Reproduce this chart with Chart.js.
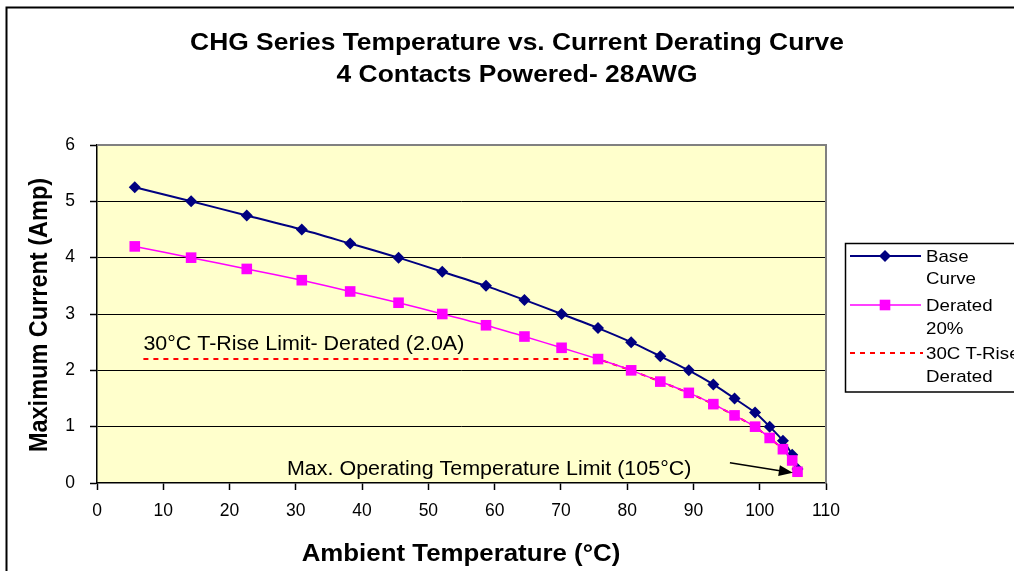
<!DOCTYPE html>
<html>
<head>
<meta charset="utf-8">
<script src="https://cdn.jsdelivr.net/npm/chart.js@4.4.1/dist/chart.umd.min.js"></script>
<style>
  html, body { margin: 0; padding: 0; background: #ffffff; }
  canvas { display: block; }
</style>
</head>
<body>
<canvas id="c" width="1014" height="571"></canvas>
<script>
// ---- Data ----
const tempC = [5.7, 14.2, 22.6, 30.9, 38.2, 45.5, 52.1, 58.7, 64.5, 70.1, 75.6, 80.6, 85.0, 89.3, 93.0, 96.2, 99.3, 101.5, 103.5, 104.9, 105.7];
const baseAmp = [5.25, 5.0, 4.75, 4.5, 4.25, 4.0, 3.75, 3.5, 3.25, 3.0, 2.75, 2.5, 2.25, 2.0, 1.75, 1.5, 1.25, 1.0, 0.75, 0.5, 0.25];
const deratedAmp = [4.2, 4.0, 3.8, 3.6, 3.4, 3.2, 3.0, 2.8, 2.6, 2.4, 2.2, 2.0, 1.8, 1.6, 1.4, 1.2, 1.0, 0.8, 0.6, 0.4, 0.2];
const riseTemp = [7.0, 75.6, 80.6, 85.0, 89.3, 93.0, 96.2, 99.3, 101.5, 103.5, 104.9, 105.7];
const riseAmp = [2.2, 2.2, 2.0, 1.8, 1.6, 1.4, 1.2, 1.0, 0.8, 0.6, 0.4, 0.2];
const xTicks = [0, 10, 20, 30, 40, 50, 60, 70, 80, 90, 100, 110];
const yTicks = [0, 1, 2, 3, 4, 5, 6];
const seriesNames = ['Base Curve', 'Derated 20%', '30C T-Rise Derated'];
const legendLines = [['Base', 'Curve'], ['Derated', '20%'], ['30C T-Rise', 'Derated']];
const titleLines = ['CHG Series Temperature vs. Current Derating Curve', '4 Contacts Powered- 28AWG'];
const xTitle = 'Ambient Temperature (°C)';
const yTitle = 'Maximum Current (Amp)';
const noteRise = '30°C T-Rise Limit- Derated (2.0A)';
const noteMax = 'Max. Operating Temperature Limit (105°C)';
const noteRiseAt = [7.0, 2.2];
const arrowFrom = [95.5, 0.36];
const arrowTo = [105.0, 0.18];

const FAM = "'Liberation Sans', Arial, sans-serif";
const SX = 1.1; // horizontal stretch seen in the reference text

function pts(xs, ys) { return xs.map((x, i) => ({ x: x, y: ys[i] })); }

function txt(ctx, s, x, y, font, align, sx) {
  ctx.save();
  ctx.font = font;
  ctx.fillStyle = '#000';
  ctx.textAlign = align;
  ctx.textBaseline = 'alphabetic';
  ctx.translate(x, y);
  ctx.scale(sx, 1);
  ctx.fillText(s, 0, 0);
  ctx.restore();
}

const decor = {
  id: 'decor',
  beforeDraw(chart) {
    const ctx = chart.ctx, a = chart.chartArea;
    ctx.save();
    ctx.fillStyle = '#ffffff';
    ctx.fillRect(0, 0, chart.width, chart.height);
    ctx.fillStyle = '#FFFFCC';
    ctx.fillRect(a.left, a.top, a.right - a.left, a.bottom - a.top);
    ctx.restore();
  },
  beforeDatasetsDraw(chart) {
    const ctx = chart.ctx, a = chart.chartArea;
    ctx.save();
    ctx.strokeStyle = '#808080';
    ctx.lineWidth = 2;
    ctx.beginPath();
    ctx.moveTo(a.left, a.top);
    ctx.lineTo(a.right, a.top);
    ctx.lineTo(a.right, a.bottom);
    ctx.stroke();
    ctx.restore();
  },
  afterDraw(chart) {
    const ctx = chart.ctx, a = chart.chartArea;
    const xs = chart.scales.x, ys = chart.scales.y;
    // outer frame
    ctx.save();
    ctx.strokeStyle = '#000';
    ctx.lineWidth = 2;
    ctx.strokeRect(6.5, 7.5, 1200, 800);
    ctx.restore();

    // titles
    txt(ctx, titleLines[0], 517, 50, 'bold 24px ' + FAM, 'center', SX);
    txt(ctx, titleLines[1], 517, 81.5, 'bold 24px ' + FAM, 'center', SX);

    // axis titles
    txt(ctx, xTitle, 461, 561, 'bold 23.5px ' + FAM, 'center', SX);
    ctx.save();
    ctx.font = 'bold 23.5px ' + FAM;
    ctx.fillStyle = '#000';
    ctx.textAlign = 'center';
    ctx.textBaseline = 'alphabetic';
    ctx.translate(47, 315);
    ctx.scale(SX, 1);
    ctx.rotate(-Math.PI / 2);
    ctx.fillText(yTitle, 0, 0);
    ctx.restore();

    // annotations
    txt(ctx, noteRise, xs.getPixelForValue(noteRiseAt[0]), ys.getPixelForValue(noteRiseAt[1]) - 9, '19.5px ' + FAM, 'left', SX);
    txt(ctx, noteMax, 287, 475, '19.5px ' + FAM, 'left', SX);

    // arrow
    const x1 = xs.getPixelForValue(arrowFrom[0]), y1 = ys.getPixelForValue(arrowFrom[1]);
    const x2 = xs.getPixelForValue(arrowTo[0]), y2 = ys.getPixelForValue(arrowTo[1]);
    const ang = Math.atan2(y2 - y1, x2 - x1);
    ctx.save();
    ctx.strokeStyle = '#000';
    ctx.fillStyle = '#000';
    ctx.lineWidth = 1.5;
    ctx.beginPath();
    ctx.moveTo(x1, y1);
    ctx.lineTo(x2 - 10 * Math.cos(ang), y2 - 10 * Math.sin(ang));
    ctx.stroke();
    ctx.translate(x2, y2);
    ctx.rotate(ang);
    ctx.beginPath();
    ctx.moveTo(0, 0);
    ctx.lineTo(-14, -5.5);
    ctx.lineTo(-14, 5.5);
    ctx.closePath();
    ctx.fill();
    ctx.restore();

    // legend
    ctx.save();
    ctx.strokeStyle = '#000';
    ctx.lineWidth = 1.5;
    ctx.strokeRect(845.5, 243.5, 220, 148.5);
    const lx0 = 850, lx1 = 921, mx = 885;
    // base
    ctx.strokeStyle = '#000080'; ctx.lineWidth = 2;
    ctx.beginPath(); ctx.moveTo(lx0, 256); ctx.lineTo(lx1, 256); ctx.stroke();
    ctx.fillStyle = '#000080';
    ctx.beginPath(); ctx.moveTo(mx, 250); ctx.lineTo(mx + 6, 256); ctx.lineTo(mx, 262); ctx.lineTo(mx - 6, 256); ctx.closePath(); ctx.fill();
    // derated
    ctx.strokeStyle = '#FF00FF'; ctx.lineWidth = 1.5;
    ctx.beginPath(); ctx.moveTo(lx0, 305); ctx.lineTo(lx1, 305); ctx.stroke();
    ctx.fillStyle = '#FF00FF';
    ctx.fillRect(mx - 5.3, 305 - 5.3, 10.6, 10.6);
    // rise
    ctx.strokeStyle = '#FF0000'; ctx.lineWidth = 2; ctx.setLineDash([5, 5]);
    ctx.beginPath(); ctx.moveTo(lx0, 353); ctx.lineTo(lx1 + 2, 353); ctx.stroke();
    ctx.setLineDash([]);
    ctx.restore();
    const lf = '17px ' + FAM;
    const base = [[261.5, 284], [311, 333.5], [359, 381.5]];
    legendLines.forEach((ls, i) => {
      txt(ctx, ls[0], 926, base[i][0], lf, 'left', SX);
      txt(ctx, ls[1], 926, base[i][1], lf, 'left', SX);
    });
  }
};

new Chart(document.getElementById('c'), {
  type: 'scatter',
  data: {
    datasets: [
      {
        label: seriesNames[0],
        data: pts(tempC, baseAmp),
        showLine: true,
        borderColor: '#000080',
        backgroundColor: '#000080',
        borderWidth: 2,
        tension: 0.2,
        pointStyle: 'rectRot',
        pointRadius: 6,
        pointBorderWidth: 0,
        pointBackgroundColor: '#000080',
        order: 1
      },
      {
        label: seriesNames[1],
        data: pts(tempC, deratedAmp),
        showLine: true,
        borderColor: '#FF00FF',
        backgroundColor: '#FF00FF',
        borderWidth: 1.5,
        tension: 0.2,
        pointStyle: 'rect',
        pointRadius: 7.5,
        pointBorderWidth: 0,
        pointBackgroundColor: '#FF00FF',
        order: 0
      },
      {
        label: seriesNames[2],
        data: pts(riseTemp, riseAmp),
        showLine: true,
        borderColor: '#FF0000',
        borderWidth: 2,
        borderDash: [5, 5],
        tension: 0,
        pointRadius: 0,
        order: 2
      }
    ]
  },
  options: {
    responsive: false,
    animation: false,
    devicePixelRatio: 1,
    layout: { padding: { left: 0, right: 188, top: 145, bottom: 0 } },
    plugins: {
      legend: { display: false },
      title: { display: false },
      tooltip: { enabled: false }
    },
    scales: {
      x: {
        type: 'linear',
        min: xTicks[0],
        max: xTicks[xTicks.length - 1],
        afterFit: s => { s.height = 88; },
        afterBuildTicks: s => { s.ticks = xTicks.map(v => ({ value: v })); },
        ticks: { color: '#000', font: { family: FAM, size: 17.5 }, padding: 11, maxRotation: 0, autoSkip: false },
        grid: { drawOnChartArea: false, drawTicks: true, tickLength: 7, tickColor: '#000', tickWidth: 1.5 },
        border: { display: true, color: '#000', width: 1.5 },
        title: { display: false }
      },
      y: {
        type: 'linear',
        min: yTicks[0],
        max: yTicks[yTicks.length - 1],
        afterFit: s => { s.width = 97; },
        afterBuildTicks: s => { s.ticks = yTicks.map(v => ({ value: v })); },
        ticks: { color: '#000', font: { family: FAM, size: 17.5 }, padding: 15 },
        grid: {
          color: c => (c.tick && c.tick.value === 6) || (c.tick && c.tick.value === 0) ? 'rgba(0,0,0,0)' : '#000',
          lineWidth: 1,
          drawTicks: true,
          tickLength: 7,
          tickColor: '#000',
          tickWidth: 1.5
        },
        border: { display: true, color: '#000', width: 1.5 },
        title: { display: false }
      }
    }
  },
  plugins: [decor]
});
</script>
</body>
</html>
